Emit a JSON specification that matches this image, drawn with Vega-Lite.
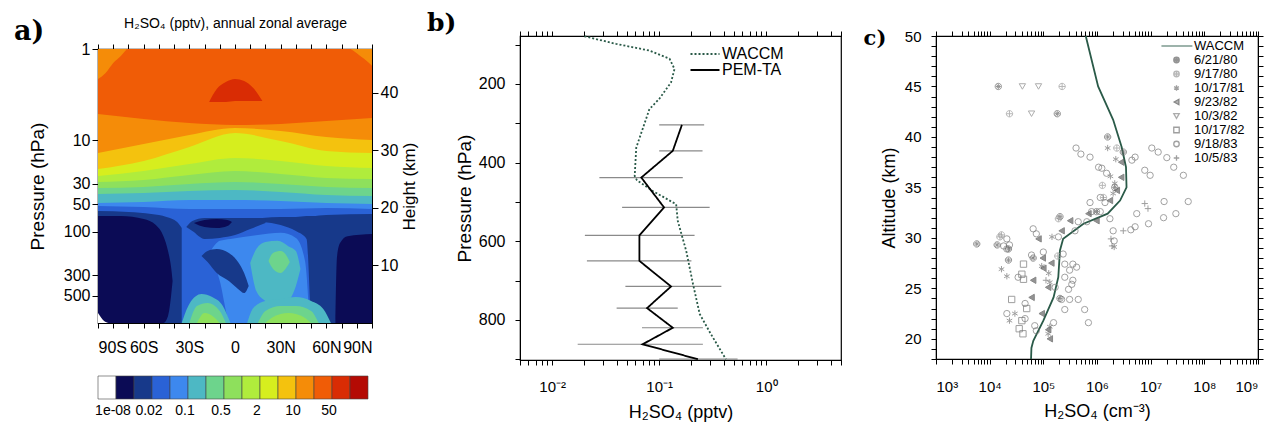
{
  "$schema": "https://vega.github.io/schema/vega-lite/v6.json",
  "background": "white",
  "padding": {"left": 13, "top": 9, "right": 0, "bottom": 0},
  "spacing": 7,
  "resolve": {"scale": {"fill": "independent", "stroke": "independent", "shape": "independent", "strokeDash": "independent"}, "legend": {"fill": "independent", "stroke": "independent", "shape": "independent", "strokeDash": "independent"}},
  "config": {
    "font": "Liberation Sans",
    "view": {"stroke": "black", "strokeWidth": 1.2},
    "title": {"font": "Liberation Sans", "color": "black", "fontWeight": "normal"},
    "axis": {"labelFont": "Liberation Sans", "titleFont": "Liberation Sans", "labelColor": "black", "titleColor": "black", "domainColor": "black", "tickColor": "black", "titleFontWeight": "normal", "grid": false, "tickSize": 5, "labelOverlap": false},
    "legend": {"labelFont": "Liberation Sans", "labelColor": "black"}
  },
  "datasets": {
    "contour": [
      {"id": "a00", "val": 0.03, "lat": -90, "lo": 1000, "hi": 1}, {"id": "a00", "val": 0.03, "lat": 90, "lo": 1000, "hi": 1},
      {"id": "a01", "val": 0.07, "lat": -90, "lo": 52.4, "hi": 1}, {"id": "a01", "val": 0.07, "lat": -60, "lo": 53.7, "hi": 1}, {"id": "a01", "val": 0.07, "lat": -30, "lo": 56.5, "hi": 1}, {"id": "a01", "val": 0.07, "lat": 0, "lo": 56.5, "hi": 1}, {"id": "a01", "val": 0.07, "lat": 30, "lo": 56.5, "hi": 1}, {"id": "a01", "val": 0.07, "lat": 60, "lo": 55.1, "hi": 1}, {"id": "a01", "val": 0.07, "lat": 90, "lo": 56.5, "hi": 1},
      {"id": "a02", "val": 0.15, "lat": -90, "lo": 48.5, "hi": 1}, {"id": "a02", "val": 0.15, "lat": -60, "lo": 47.3, "hi": 1}, {"id": "a02", "val": 0.15, "lat": -30, "lo": 45.0, "hi": 1}, {"id": "a02", "val": 0.15, "lat": 0, "lo": 45.0, "hi": 1}, {"id": "a02", "val": 0.15, "lat": 30, "lo": 46.2, "hi": 1}, {"id": "a02", "val": 0.15, "lat": 60, "lo": 48.5, "hi": 1}, {"id": "a02", "val": 0.15, "lat": 90, "lo": 49.8, "hi": 1},
      {"id": "a03", "val": 0.3, "lat": -90, "lo": 38.7, "hi": 1}, {"id": "a03", "val": 0.3, "lat": -60, "lo": 37.7, "hi": 1}, {"id": "a03", "val": 0.3, "lat": -30, "lo": 35.9, "hi": 1}, {"id": "a03", "val": 0.3, "lat": 0, "lo": 35.0, "hi": 1}, {"id": "a03", "val": 0.3, "lat": 30, "lo": 36.8, "hi": 1}, {"id": "a03", "val": 0.3, "lat": 60, "lo": 39.7, "hi": 1}, {"id": "a03", "val": 0.3, "lat": 90, "lo": 40.7, "hi": 1},
      {"id": "a04", "val": 0.7, "lat": -90, "lo": 33.3, "hi": 1}, {"id": "a04", "val": 0.7, "lat": -60, "lo": 32.4, "hi": 1}, {"id": "a04", "val": 0.7, "lat": -30, "lo": 30.1, "hi": 1}, {"id": "a04", "val": 0.7, "lat": 0, "lo": 28.6, "hi": 1}, {"id": "a04", "val": 0.7, "lat": 30, "lo": 30.1, "hi": 1}, {"id": "a04", "val": 0.7, "lat": 60, "lo": 32.4, "hi": 1}, {"id": "a04", "val": 0.7, "lat": 90, "lo": 33.3, "hi": 1},
      {"id": "a05", "val": 1.5, "lat": -90, "lo": 28.6, "hi": 1}, {"id": "a05", "val": 1.5, "lat": -60, "lo": 27.2, "hi": 1}, {"id": "a05", "val": 1.5, "lat": -30, "lo": 24.0, "hi": 1}, {"id": "a05", "val": 1.5, "lat": 0, "lo": 21.7, "hi": 1}, {"id": "a05", "val": 1.5, "lat": 30, "lo": 23.4, "hi": 1}, {"id": "a05", "val": 1.5, "lat": 60, "lo": 25.8, "hi": 1}, {"id": "a05", "val": 1.5, "lat": 90, "lo": 26.5, "hi": 1},
      {"id": "a06", "val": 3, "lat": -90, "lo": 24.6, "hi": 1}, {"id": "a06", "val": 3, "lat": -60, "lo": 21.7, "hi": 1}, {"id": "a06", "val": 3, "lat": -30, "lo": 18.2, "hi": 1}, {"id": "a06", "val": 3, "lat": 0, "lo": 15.6, "hi": 1}, {"id": "a06", "val": 3, "lat": 30, "lo": 16.8, "hi": 1}, {"id": "a06", "val": 3, "lat": 60, "lo": 19.1, "hi": 1}, {"id": "a06", "val": 3, "lat": 90, "lo": 20.1, "hi": 1},
      {"id": "a07", "val": 7, "lat": -90, "lo": 20.6, "hi": 1}, {"id": "a07", "val": 7, "lat": -60, "lo": 16.8, "hi": 1}, {"id": "a07", "val": 7, "lat": -30, "lo": 11.8, "hi": 1}, {"id": "a07", "val": 7, "lat": 0, "lo": 8.32, "hi": 1}, {"id": "a07", "val": 7, "lat": 30, "lo": 10.2, "hi": 1}, {"id": "a07", "val": 7, "lat": 60, "lo": 13.1, "hi": 1}, {"id": "a07", "val": 7, "lat": 90, "lo": 13.8, "hi": 1},
      {"id": "a08", "val": 15, "lat": -90, "lo": 13.8, "hi": 1}, {"id": "a08", "val": 15, "lat": -60, "lo": 11.0, "hi": 1}, {"id": "a08", "val": 15, "lat": -30, "lo": 8.75, "hi": 1}, {"id": "a08", "val": 15, "lat": 0, "lo": 7.33, "hi": 1}, {"id": "a08", "val": 15, "lat": 30, "lo": 7.9, "hi": 1}, {"id": "a08", "val": 15, "lat": 60, "lo": 9.2, "hi": 1}, {"id": "a08", "val": 15, "lat": 90, "lo": 9.93, "hi": 1},
      {"id": "a09", "val": 30, "lat": -90, "lo": 5.15, "hi": 1}, {"id": "a09", "val": 30, "lat": -60, "lo": 5.84, "hi": 1}, {"id": "a09", "val": 30, "lat": -30, "lo": 6.46, "hi": 1}, {"id": "a09", "val": 30, "lat": 0, "lo": 6.79, "hi": 1}, {"id": "a09", "val": 30, "lat": 30, "lo": 6.62, "hi": 1}, {"id": "a09", "val": 30, "lat": 60, "lo": 6.14, "hi": 1}, {"id": "a09", "val": 30, "lat": 90, "lo": 5.69, "hi": 1},
      {"id": "a10", "val": 15, "lat": -90, "lo": 2.13, "hi": 1}, {"id": "a10", "val": 15, "lat": -85, "lo": 1.83, "hi": 1}, {"id": "a10", "val": 15, "lat": -80, "lo": 1.42, "hi": 1}, {"id": "a10", "val": 15, "lat": -75, "lo": 1.19, "hi": 1}, {"id": "a10", "val": 15, "lat": -71, "lo": 1, "hi": 1},
      {"id": "a11", "val": 15, "lat": 76, "lo": 1, "hi": 1}, {"id": "a11", "val": 15, "lat": 80, "lo": 1.11, "hi": 1}, {"id": "a11", "val": 15, "lat": 85, "lo": 1.29, "hi": 1}, {"id": "a11", "val": 15, "lat": 90, "lo": 1.53, "hi": 1},
      {"id": "a12", "val": 70, "lat": -17, "lo": 3.8, "hi": 3.8}, {"id": "a12", "val": 70, "lat": -12, "lo": 3.8, "hi": 2.74}, {"id": "a12", "val": 70, "lat": -6, "lo": 3.8, "hi": 2.3}, {"id": "a12", "val": 70, "lat": 0, "lo": 3.71, "hi": 2.13}, {"id": "a12", "val": 70, "lat": 6, "lo": 3.71, "hi": 2.24}, {"id": "a12", "val": 70, "lat": 12, "lo": 3.71, "hi": 2.67}, {"id": "a12", "val": 70, "lat": 18, "lo": 3.71, "hi": 3.71},
      {"id": "a13", "val": 0.015, "lat": -90, "lo": 1000, "hi": 59.4}, {"id": "a13", "val": 0.015, "lat": -70, "lo": 1000, "hi": 61.0}, {"id": "a13", "val": 0.015, "lat": -55, "lo": 1000, "hi": 64.1}, {"id": "a13", "val": 0.015, "lat": -45, "lo": 1000, "hi": 69.1}, {"id": "a13", "val": 0.015, "lat": -38, "lo": 1000, "hi": 78.3}, {"id": "a13", "val": 0.015, "lat": -35, "lo": 1000, "hi": 91.2},
      {"id": "a14", "val": 0.005, "lat": -90, "lo": 1000, "hi": 67.4}, {"id": "a14", "val": 0.005, "lat": -75, "lo": 1000, "hi": 67.4}, {"id": "a14", "val": 0.005, "lat": -60, "lo": 1000, "hi": 72.6}, {"id": "a14", "val": 0.005, "lat": -52, "lo": 1000, "hi": 84.5}, {"id": "a14", "val": 0.005, "lat": -47, "lo": 1000, "hi": 112}, {"id": "a14", "val": 0.005, "lat": -44, "lo": 838, "hi": 163}, {"id": "a14", "val": 0.005, "lat": -42, "lo": 506, "hi": 244}, {"id": "a14", "val": 0.005, "lat": -41, "lo": 347, "hi": 347},
      {"id": "a15", "val": 0, "lat": -90, "lo": 1000, "hi": 777}, {"id": "a15", "val": 0, "lat": -86, "lo": 1000, "hi": 950}, {"id": "a15", "val": 0, "lat": -83, "lo": 1000, "hi": 1000},
      {"id": "a16", "val": 0.07, "lat": -16, "lo": 163, "hi": 163}, {"id": "a16", "val": 0.07, "lat": -10, "lo": 347, "hi": 126}, {"id": "a16", "val": 0.07, "lat": -3, "lo": 1000, "hi": 120}, {"id": "a16", "val": 0.07, "lat": 15, "lo": 1000, "hi": 109}, {"id": "a16", "val": 0.07, "lat": 30, "lo": 1000, "hi": 103}, {"id": "a16", "val": 0.07, "lat": 40, "lo": 1000, "hi": 117}, {"id": "a16", "val": 0.07, "lat": 46, "lo": 1000, "hi": 210}, {"id": "a16", "val": 0.07, "lat": 49, "lo": 1000, "hi": 1000},
      {"id": "a17", "val": 0.015, "lat": 18, "lo": 78.3, "hi": 70.8}, {"id": "a17", "val": 0.015, "lat": 30, "lo": 84.5, "hi": 69.1}, {"id": "a17", "val": 0.015, "lat": 40, "lo": 98.4, "hi": 69.1}, {"id": "a17", "val": 0.015, "lat": 47, "lo": 120, "hi": 67.4}, {"id": "a17", "val": 0.015, "lat": 50.5, "lo": 1000, "hi": 67.4}, {"id": "a17", "val": 0.015, "lat": 60, "lo": 1000, "hi": 65.7}, {"id": "a17", "val": 0.015, "lat": 90, "lo": 1000, "hi": 64.1},
      {"id": "a18", "val": 0.005, "lat": 66, "lo": 1000, "hi": 1000}, {"id": "a18", "val": 0.005, "lat": 67, "lo": 1000, "hi": 189}, {"id": "a18", "val": 0.005, "lat": 69, "lo": 1000, "hi": 133}, {"id": "a18", "val": 0.005, "lat": 74, "lo": 1000, "hi": 112}, {"id": "a18", "val": 0.005, "lat": 90, "lo": 1000, "hi": 106},
      {"id": "a19", "val": 0.015, "lat": -32, "lo": 88.9, "hi": 88.9}, {"id": "a19", "val": 0.015, "lat": -28, "lo": 98.4, "hi": 76.4}, {"id": "a19", "val": 0.015, "lat": -20, "lo": 120, "hi": 70.8}, {"id": "a19", "val": 0.015, "lat": -10, "lo": 117, "hi": 70.8}, {"id": "a19", "val": 0.015, "lat": 0, "lo": 109, "hi": 70.8}, {"id": "a19", "val": 0.015, "lat": 10, "lo": 93.5, "hi": 70.8}, {"id": "a19", "val": 0.015, "lat": 20, "lo": 80.4, "hi": 70.8},
      {"id": "a20", "val": 0.005, "lat": -27, "lo": 80.4, "hi": 80.4}, {"id": "a20", "val": 0.005, "lat": -20, "lo": 88.9, "hi": 74.5}, {"id": "a20", "val": 0.005, "lat": -12, "lo": 91.2, "hi": 72.6}, {"id": "a20", "val": 0.005, "lat": -5, "lo": 86.7, "hi": 74.5}, {"id": "a20", "val": 0.005, "lat": -2, "lo": 78.3, "hi": 78.3},
      {"id": "a21", "val": 0.015, "lat": -22, "lo": 185, "hi": 185}, {"id": "a21", "val": 0.015, "lat": -18, "lo": 215, "hi": 163}, {"id": "a21", "val": 0.015, "lat": -12, "lo": 284, "hi": 155}, {"id": "a21", "val": 0.015, "lat": -4, "lo": 347, "hi": 171}, {"id": "a21", "val": 0.015, "lat": 2, "lo": 424, "hi": 215}, {"id": "a21", "val": 0.015, "lat": 6, "lo": 470, "hi": 284}, {"id": "a21", "val": 0.015, "lat": 9, "lo": 393, "hi": 393},
      {"id": "a22", "val": 0.15, "lat": 10, "lo": 220, "hi": 220}, {"id": "a22", "val": 0.15, "lat": 14, "lo": 446, "hi": 155}, {"id": "a22", "val": 0.15, "lat": 20, "lo": 574, "hi": 130}, {"id": "a22", "val": 0.15, "lat": 28, "lo": 651, "hi": 126}, {"id": "a22", "val": 0.15, "lat": 35, "lo": 574, "hi": 144}, {"id": "a22", "val": 0.15, "lat": 40, "lo": 393, "hi": 163}, {"id": "a22", "val": 0.15, "lat": 43, "lo": 256, "hi": 256},
      {"id": "a23", "val": 0.3, "lat": 22, "lo": 210, "hi": 210}, {"id": "a23", "val": 0.3, "lat": 25, "lo": 256, "hi": 171}, {"id": "a23", "val": 0.3, "lat": 30, "lo": 284, "hi": 163}, {"id": "a23", "val": 0.3, "lat": 34, "lo": 244, "hi": 185}, {"id": "a23", "val": 0.3, "lat": 36, "lo": 215, "hi": 215},
      {"id": "a24", "val": 0.15, "lat": -35, "lo": 1000, "hi": 1000}, {"id": "a24", "val": 0.15, "lat": -30, "lo": 1000, "hi": 619}, {"id": "a24", "val": 0.15, "lat": -22, "lo": 1000, "hi": 482}, {"id": "a24", "val": 0.15, "lat": -15, "lo": 1000, "hi": 519}, {"id": "a24", "val": 0.15, "lat": -8, "lo": 1000, "hi": 651}, {"id": "a24", "val": 0.15, "lat": -3, "lo": 1000, "hi": 1000},
      {"id": "a25", "val": 0.15, "lat": 8, "lo": 1000, "hi": 1000}, {"id": "a25", "val": 0.15, "lat": 12, "lo": 1000, "hi": 685}, {"id": "a25", "val": 0.15, "lat": 20, "lo": 1000, "hi": 574}, {"id": "a25", "val": 0.15, "lat": 30, "lo": 1000, "hi": 546}, {"id": "a25", "val": 0.15, "lat": 40, "lo": 1000, "hi": 519}, {"id": "a25", "val": 0.15, "lat": 50, "lo": 1000, "hi": 574}, {"id": "a25", "val": 0.15, "lat": 58, "lo": 1000, "hi": 703}, {"id": "a25", "val": 0.15, "lat": 63, "lo": 1000, "hi": 1000},
      {"id": "a26", "val": 0.3, "lat": -30, "lo": 1000, "hi": 1000}, {"id": "a26", "val": 0.3, "lat": -25, "lo": 1000, "hi": 651}, {"id": "a26", "val": 0.3, "lat": -18, "lo": 1000, "hi": 604}, {"id": "a26", "val": 0.3, "lat": -10, "lo": 1000, "hi": 739}, {"id": "a26", "val": 0.3, "lat": -6, "lo": 1000, "hi": 1000},
      {"id": "a27", "val": 0.3, "lat": 15, "lo": 1000, "hi": 1000}, {"id": "a27", "val": 0.3, "lat": 20, "lo": 1000, "hi": 739}, {"id": "a27", "val": 0.3, "lat": 30, "lo": 1000, "hi": 651}, {"id": "a27", "val": 0.3, "lat": 40, "lo": 1000, "hi": 651}, {"id": "a27", "val": 0.3, "lat": 50, "lo": 1000, "hi": 739}, {"id": "a27", "val": 0.3, "lat": 55, "lo": 1000, "hi": 1000},
      {"id": "a28", "val": 0.7, "lat": -25, "lo": 1000, "hi": 1000}, {"id": "a28", "val": 0.7, "lat": -20, "lo": 1000, "hi": 777}, {"id": "a28", "val": 0.7, "lat": -14, "lo": 1000, "hi": 859}, {"id": "a28", "val": 0.7, "lat": -10, "lo": 1000, "hi": 1000},
      {"id": "a29", "val": 0.7, "lat": 20, "lo": 1000, "hi": 1000}, {"id": "a29", "val": 0.7, "lat": 25, "lo": 1000, "hi": 859}, {"id": "a29", "val": 0.7, "lat": 35, "lo": 1000, "hi": 777}, {"id": "a29", "val": 0.7, "lat": 45, "lo": 1000, "hi": 859}, {"id": "a29", "val": 0.7, "lat": 50, "lo": 1000, "hi": 1000}
    ],
    "cbar": [
      {"lower": "0", "val": 0}, {"lower": "1e-08", "val": 0.005}, {"lower": "0.01", "val": 0.015}, {"lower": "0.02", "val": 0.03}, {"lower": "0.05", "val": 0.07}, {"lower": "0.1", "val": 0.15}, {"lower": "0.2", "val": 0.3}, {"lower": "0.5", "val": 0.7}, {"lower": "1", "val": 1.5}, {"lower": "2", "val": 3}, {"lower": "5", "val": 7}, {"lower": "10", "val": 15}, {"lower": "20", "val": 30}, {"lower": "50", "val": 70}, {"lower": "100", "val": 150}
    ],
    "profb": [
      {"series": "WACCM", "p": 78.7, "v": 0.02}, {"series": "WACCM", "p": 98, "v": 0.0395}, {"series": "WACCM", "p": 115, "v": 0.081}, {"series": "WACCM", "p": 136, "v": 0.125}, {"series": "WACCM", "p": 162, "v": 0.139}, {"series": "WACCM", "p": 196, "v": 0.129}, {"series": "WACCM", "p": 238, "v": 0.1}, {"series": "WACCM", "p": 264, "v": 0.081}, {"series": "WACCM", "p": 362, "v": 0.061}, {"series": "WACCM", "p": 434, "v": 0.059}, {"series": "WACCM", "p": 445, "v": 0.062}, {"series": "WACCM", "p": 472, "v": 0.087}, {"series": "WACCM", "p": 506, "v": 0.144}, {"series": "WACCM", "p": 548, "v": 0.149}, {"series": "WACCM", "p": 625, "v": 0.179}, {"series": "WACCM", "p": 709, "v": 0.207}, {"series": "WACCM", "p": 785, "v": 0.239}, {"series": "WACCM", "p": 836, "v": 0.304}, {"series": "WACCM", "p": 900, "v": 0.42},
      {"series": "PEM-TA", "p": 304, "v": 0.163, "lo": 0.1, "hi": 0.263}, {"series": "PEM-TA", "p": 370, "v": 0.134, "lo": 0.1, "hi": 0.254}, {"series": "PEM-TA", "p": 438, "v": 0.068, "lo": 0.0276, "hi": 0.166}, {"series": "PEM-TA", "p": 514, "v": 0.111, "lo": 0.045, "hi": 0.296}, {"series": "PEM-TA", "p": 585, "v": 0.0653, "lo": 0.0202, "hi": 0.214}, {"series": "PEM-TA", "p": 650, "v": 0.0653, "lo": 0.0211, "hi": 0.2}, {"series": "PEM-TA", "p": 715, "v": 0.129, "lo": 0.0483, "hi": 0.381}, {"series": "PEM-TA", "p": 770, "v": 0.077, "lo": 0.04, "hi": 0.149}, {"series": "PEM-TA", "p": 820, "v": 0.134, "lo": 0.069, "hi": 0.256}, {"series": "PEM-TA", "p": 862, "v": 0.07, "lo": 0.0173, "hi": 0.256}, {"series": "PEM-TA", "p": 900, "v": 0.23, "lo": 0.1, "hi": 0.54}
    ],
    "profc": [
      {"series": "WACCM", "alt": 50, "v": 6.17e5}, {"series": "WACCM", "alt": 45, "v": 1.05e6}, {"series": "WACCM", "alt": 41.7, "v": 2.0e6}, {"series": "WACCM", "alt": 39, "v": 2.88e6}, {"series": "WACCM", "alt": 37, "v": 3.47e6}, {"series": "WACCM", "alt": 35, "v": 3.55e6}, {"series": "WACCM", "alt": 33.7, "v": 2.69e6}, {"series": "WACCM", "alt": 32.4, "v": 1.58e6}, {"series": "WACCM", "alt": 31.4, "v": 5.6e5}, {"series": "WACCM", "alt": 29.9, "v": 2.34e5}, {"series": "WACCM", "alt": 28.75, "v": 2.04e5}, {"series": "WACCM", "alt": 26.1, "v": 1.9e5}, {"series": "WACCM", "alt": 24.1, "v": 1.55e5}, {"series": "WACCM", "alt": 21.8, "v": 1.0e5}, {"series": "WACCM", "alt": 19.8, "v": 6.5e4}, {"series": "WACCM", "alt": 19.1, "v": 6.0e4}, {"series": "WACCM", "alt": 18, "v": 5.9e4}
    ],
    "obs": [
      {"series": "6/21/80", "v": 1.45e4, "alt": 45}, {"series": "10/3/82", "v": 4.07e4, "alt": 45}, {"series": "10/3/82", "v": 8.13e4, "alt": 45}, {"series": "9/17/80", "v": 2.24e5, "alt": 45},
      {"series": "9/17/80", "v": 2.34e4, "alt": 42.3}, {"series": "10/3/82", "v": 6.03e4, "alt": 42.3}, {"series": "6/21/80", "v": 1.82e5, "alt": 42.3},
      {"series": "6/21/80", "v": 1.58e6, "alt": 40.0}, {"series": "10/17/81", "v": 1.58e6, "alt": 38.9}, {"series": "9/17/80", "v": 2.34e6, "alt": 38.9}, {"series": "6/21/80", "v": 3.09e6, "alt": 38.5}, {"series": "9/23/82", "v": 2.82e6, "alt": 37.5}, {"series": "10/17/81", "v": 2.24e6, "alt": 37.8},
      {"series": "9/18/83", "v": 4.07e5, "alt": 38.9}, {"series": "9/18/83", "v": 5.01e5, "alt": 38.3}, {"series": "9/18/83", "v": 7.41e5, "alt": 38.0}, {"series": "9/18/83", "v": 1.07e6, "alt": 37.0}, {"series": "9/18/83", "v": 1.23e6, "alt": 36.9}, {"series": "9/18/83", "v": 1.51e6, "alt": 36.4},
      {"series": "9/18/83", "v": 1.05e7, "alt": 38.9}, {"series": "9/18/83", "v": 1.38e7, "alt": 38.5}, {"series": "9/18/83", "v": 2.0e7, "alt": 37.95}, {"series": "9/18/83", "v": 2.69e7, "alt": 37.0}, {"series": "9/18/83", "v": 4.07e7, "alt": 36.2}, {"series": "9/18/83", "v": 5.13e6, "alt": 38.0}, {"series": "9/18/83", "v": 4.47e6, "alt": 37.7}, {"series": "9/18/83", "v": 7.76e6, "alt": 36.7}, {"series": "9/18/83", "v": 9.77e6, "alt": 36.2},
      {"series": "9/23/82", "v": 2.82e6, "alt": 36.0}, {"series": "10/17/81", "v": 1.78e6, "alt": 36.1}, {"series": "6/21/80", "v": 2.14e6, "alt": 35.0}, {"series": "10/17/81", "v": 2.0e6, "alt": 34.4}, {"series": "9/23/82", "v": 1.74e6, "alt": 33.7}, {"series": "9/17/80", "v": 1.32e6, "alt": 34.0},
      {"series": "10/17/81", "v": 2.14e6, "alt": 35.4}, {"series": "9/23/82", "v": 2.34e6, "alt": 34.7}, {"series": "9/17/80", "v": 1.26e6, "alt": 35.2},
      {"series": "9/18/83", "v": 1.15e6, "alt": 34.0}, {"series": "9/18/83", "v": 1.41e6, "alt": 33.5}, {"series": "9/18/83", "v": 7.41e5, "alt": 33.5}, {"series": "9/18/83", "v": 7.94e5, "alt": 32.6}, {"series": "6/21/80", "v": 9.77e5, "alt": 32.6}, {"series": "9/23/82", "v": 6.92e5, "alt": 32.4}, {"series": "9/18/83", "v": 1.15e6, "alt": 32.6}, {"series": "9/18/83", "v": 1.74e6, "alt": 31.9}, {"series": "9/23/82", "v": 9.77e5, "alt": 31.7}, {"series": "9/18/83", "v": 6.46e5, "alt": 31.6}, {"series": "9/18/83", "v": 4.47e5, "alt": 31.6}, {"series": "9/18/83", "v": 3.89e5, "alt": 30.7}, {"series": "9/23/82", "v": 3.16e5, "alt": 31.7}, {"series": "6/21/80", "v": 2.04e5, "alt": 32.1}, {"series": "9/17/80", "v": 1.91e5, "alt": 31.9}, {"series": "9/23/82", "v": 2.19e5, "alt": 30.7}, {"series": "9/18/83", "v": 1.91e5, "alt": 30.1},
      {"series": "9/18/83", "v": 6.46e4, "alt": 30.9}, {"series": "9/18/83", "v": 7.41e4, "alt": 30.4}, {"series": "9/23/82", "v": 8.13e4, "alt": 29.9}, {"series": "10/17/81", "v": 1.45e5, "alt": 30.1}, {"series": "9/17/80", "v": 1.55e4, "alt": 30.1}, {"series": "9/18/83", "v": 2.09e4, "alt": 29.9}, {"series": "9/18/83", "v": 2.34e4, "alt": 29.3}, {"series": "6/21/80", "v": 1.38e4, "alt": 29.3},
      {"series": "9/18/83", "v": 2.0e6, "alt": 30.7}, {"series": "9/18/83", "v": 2.09e6, "alt": 29.7}, {"series": "10/5/83", "v": 7.76e6, "alt": 33.4}, {"series": "10/5/83", "v": 8.91e6, "alt": 32.9}, {"series": "9/18/83", "v": 1.78e7, "alt": 33.6}, {"series": "9/18/83", "v": 5.01e7, "alt": 33.6}, {"series": "9/18/83", "v": 5.5e6, "alt": 32.4}, {"series": "9/18/83", "v": 1.74e7, "alt": 32.0}, {"series": "9/18/83", "v": 2.95e7, "alt": 32.4}, {"series": "9/18/83", "v": 9.12e6, "alt": 31.4}, {"series": "9/18/83", "v": 5.13e6, "alt": 31.1}, {"series": "10/5/83", "v": 3.09e6, "alt": 30.7}, {"series": "10/5/83", "v": 1.82e6, "alt": 29.9}, {"series": "10/17/81", "v": 2.09e6, "alt": 29.1}, {"series": "10/5/83", "v": 1.91e6, "alt": 29.2}, {"series": "9/18/83", "v": 4.27e6, "alt": 30.8},
      {"series": "6/21/80", "v": 5.75e3, "alt": 29.4}, {"series": "9/18/83", "v": 1.82e4, "alt": 29.2}, {"series": "9/18/83", "v": 2.09e4, "alt": 28.9}, {"series": "10/17/81", "v": 1.66e4, "alt": 26.9}, {"series": "6/21/80", "v": 2.24e4, "alt": 27.8}, {"series": "10/17/81", "v": 2.09e4, "alt": 26.2}, {"series": "6/21/80", "v": 2.24e4, "alt": 28.9}, {"series": "9/17/80", "v": 1.66e4, "alt": 30.3},
      {"series": "10/17/82", "v": 4.27e4, "alt": 27.4}, {"series": "10/17/82", "v": 3.98e4, "alt": 26.4}, {"series": "10/17/82", "v": 4.27e4, "alt": 25.9}, {"series": "9/18/83", "v": 3.39e4, "alt": 26.1},
      {"series": "6/21/80", "v": 6.46e4, "alt": 28.0}, {"series": "9/18/83", "v": 6.03e4, "alt": 28.3}, {"series": "9/23/82", "v": 9.77e4, "alt": 28.0}, {"series": "10/17/81", "v": 9.33e4, "alt": 27.2}, {"series": "9/23/82", "v": 6.46e4, "alt": 25.8}, {"series": "9/23/82", "v": 1.0e5, "alt": 27.0}, {"series": "10/17/81", "v": 1.32e5, "alt": 25.6}, {"series": "9/23/82", "v": 1.23e5, "alt": 25.1}, {"series": "9/18/83", "v": 1.66e5, "alt": 25.1}, {"series": "9/18/83", "v": 1.0e5, "alt": 28.6}, {"series": "9/23/82", "v": 1.41e5, "alt": 27.5}, {"series": "10/17/81", "v": 1.26e5, "alt": 26.5}, {"series": "10/5/83", "v": 1.12e5, "alt": 25.8}, {"series": "9/17/80", "v": 1.86e5, "alt": 28.2},
      {"series": "9/18/83", "v": 2.34e5, "alt": 28.4}, {"series": "9/18/83", "v": 2.51e5, "alt": 27.4}, {"series": "9/18/83", "v": 3.09e5, "alt": 26.8}, {"series": "9/18/83", "v": 3.55e5, "alt": 27.4}, {"series": "9/18/83", "v": 4.17e5, "alt": 27.1}, {"series": "9/18/83", "v": 2.51e5, "alt": 26.1}, {"series": "9/18/83", "v": 3.55e5, "alt": 25.8}, {"series": "9/18/83", "v": 2.95e5, "alt": 24.9}, {"series": "9/18/83", "v": 3.39e5, "alt": 25.4},
      {"series": "9/18/83", "v": 2.19e5, "alt": 23.9}, {"series": "9/18/83", "v": 3.09e5, "alt": 23.9}, {"series": "9/18/83", "v": 4.47e5, "alt": 23.9}, {"series": "9/18/83", "v": 2.51e5, "alt": 22.9}, {"series": "9/18/83", "v": 5.89e5, "alt": 22.9}, {"series": "9/18/83", "v": 6.92e5, "alt": 21.6}, {"series": "9/18/83", "v": 1.55e5, "alt": 21.6}, {"series": "6/21/80", "v": 2.04e5, "alt": 24.0},
      {"series": "10/17/82", "v": 2.57e4, "alt": 23.9}, {"series": "9/18/83", "v": 4.57e4, "alt": 23.5}, {"series": "10/17/82", "v": 4.9e4, "alt": 23.0}, {"series": "9/23/82", "v": 6.03e4, "alt": 24.1}, {"series": "9/23/82", "v": 9.33e4, "alt": 22.5}, {"series": "9/18/83", "v": 2.09e4, "alt": 22.5}, {"series": "10/17/81", "v": 2.95e4, "alt": 22.5}, {"series": "10/17/81", "v": 2.34e4, "alt": 21.8}, {"series": "10/17/82", "v": 3.98e4, "alt": 21.8}, {"series": "9/18/83", "v": 4.57e4, "alt": 22.0}, {"series": "10/17/82", "v": 3.55e4, "alt": 21.0}, {"series": "10/17/82", "v": 4.17e4, "alt": 20.5}, {"series": "9/18/83", "v": 6.92e4, "alt": 21.3}, {"series": "9/18/83", "v": 7.41e4, "alt": 20.8}, {"series": "9/23/82", "v": 1.23e5, "alt": 20.9}, {"series": "10/17/81", "v": 1.32e5, "alt": 21.2}, {"series": "9/23/82", "v": 1.32e5, "alt": 20.0}, {"series": "10/17/81", "v": 1.23e5, "alt": 20.5}
    ]
  },
  "hconcat": [
    {
      "bounds": "flush",
      "spacing": 0,
      "vconcat": [
        {
          "width": 274,
          "height": 13,
          "view": {"stroke": null},
          "data": {"values": []},
          "mark": "point",
          "encoding": {}
        },
        {
          "bounds": "flush",
          "spacing": 53,
          "vconcat": [
            {
              "width": 274,
              "height": 274,
              "title": {"text": "a)", "orient": "left", "anchor": "end", "frame": "group", "angle": 0, "align": "left", "baseline": "middle", "offset": -16, "dy": -17.5, "font": "DejaVu Serif", "fontSize": 27, "fontWeight": "bold", "color": "black"},
              "layer": [
                {
                  "data": {"name": "contour"},
                  "mark": {"type": "area", "orient": "vertical", "interpolate": "monotone", "clip": true},
                  "encoding": {
                    "x": {"field": "lat", "type": "quantitative", "scale": {"domain": [-90, 90], "nice": false, "zero": false},
                      "axis": {"values": [-90, -80, -70, -60, -50, -40, -30, -20, -10, 0, 10, 20, 30, 40, 50, 60, 70, 80, 90], "labelExpr": "datum.value % 30 != 0 ? '' : (datum.value < 0 ? (-datum.value) + 'S' : (datum.value > 0 ? datum.value + 'N' : '0'))", "title": null, "labelFontSize": 16, "labelPadding": 11, "tickSize": 5}},
                    "y": {"field": "lo", "type": "quantitative", "scale": {"type": "log", "domain": [1, 1000], "reverse": true, "nice": false},
                      "axis": {"values": [1, 10, 30, 50, 100, 300, 500], "format": "d", "title": "Pressure (hPa)", "labelFontSize": 16, "titleFontSize": 19, "titlePadding": 16, "tickSize": 6}},
                    "y2": {"field": "hi"},
                    "fill": {"field": "val", "type": "quantitative",
                      "scale": {"type": "threshold", "domain": [1e-8, 0.01, 0.02, 0.05, 0.1, 0.2, 0.5, 1, 2, 5, 10, 20, 50, 100], "range": ["#ffffff", "#0b0b55", "#17398a", "#2a62d6", "#3d88ee", "#4db8c4", "#6dd48c", "#8ee05c", "#b0ec3c", "#d6ee1e", "#f4c20e", "#f58c08", "#f05c06", "#d92c04", "#b40a04"]},
                      "legend": null},
                    "detail": {"field": "id"}
                  }
                },
                {
                  "data": {"values": [{}]},
                  "mark": {"type": "point", "opacity": 0},
                  "encoding": {
                    "x": {"datum": 0, "type": "quantitative", "scale": {"domain": [-90, 90], "nice": false, "zero": false},
                      "axis": {"orient": "top", "values": [-90, -80, -70, -60, -50, -40, -30, -20, -10, 0, 10, 20, 30, 40, 50, 60, 70, 80, 90], "labels": false, "title": "H₂SO₄ (pptv), annual zonal average", "titleFontSize": 14, "titlePadding": 13, "tickSize": 5}},
                    "y": {"datum": 10, "type": "quantitative", "scale": {"domain": [0, 47.6], "nice": false, "zero": false},
                      "axis": {"orient": "right", "values": [10, 20, 30, 40], "title": "Height (km)", "titleAngle": 270, "titleBaseline": "top", "labelFontSize": 16, "titleFontSize": 17, "titlePadding": 4, "tickSize": 6}}
                  }
                }
              ],
              "resolve": {"scale": {"x": "independent", "y": "independent"}, "axis": {"x": "independent", "y": "independent"}}
            },
            {
              "width": 270,
              "height": 23,
              "view": {"stroke": null},
              "data": {"name": "cbar"},
              "mark": {"type": "rect", "stroke": "#444444", "strokeWidth": 0.6},
              "encoding": {
                "x": {"field": "lower", "type": "ordinal", "sort": null, "scale": {"paddingInner": 0, "paddingOuter": 0},
                  "axis": {"values": ["1e-08", "0.02", "0.1", "0.5", "2", "10", "50"], "labelOffset": -12, "labelAngle": 0, "ticks": false, "domain": false, "title": null, "labelFontSize": 14, "labelPadding": 4}},
                "fill": {"field": "val", "type": "quantitative",
                  "scale": {"type": "threshold", "domain": [1e-8, 0.01, 0.02, 0.05, 0.1, 0.2, 0.5, 1, 2, 5, 10, 20, 50, 100], "range": ["#ffffff", "#0b0b55", "#17398a", "#2a62d6", "#3d88ee", "#4db8c4", "#6dd48c", "#8ee05c", "#b0ec3c", "#d6ee1e", "#f4c20e", "#f58c08", "#f05c06", "#d92c04", "#b40a04"]},
                  "legend": null}
              }
            }
          ]
        }
      ]
    },
    {
      "bounds": "flush",
      "spacing": 95,
      "resolve": {"scale": {"fill": "independent", "stroke": "independent", "shape": "independent", "strokeDash": "independent"}, "legend": {"fill": "independent", "stroke": "independent", "shape": "independent", "strokeDash": "independent"}},
      "hconcat": [
        {
          "width": 321,
          "height": 324,
          "title": {"text": "b)", "orient": "left", "anchor": "end", "frame": "group", "angle": 0, "align": "left", "baseline": "middle", "offset": -1, "dy": -13.5, "font": "DejaVu Serif", "fontSize": 25, "fontWeight": "bold", "color": "black"},
          "layer": [
            {
              "data": {"name": "profb"},
              "layer": [
                {
                  "transform": [{"filter": "datum.series == 'PEM-TA'"}],
                  "mark": {"type": "rule", "color": "#8a8a8a", "strokeWidth": 1.2},
                  "encoding": {
                    "x": {"field": "lo", "type": "quantitative", "scale": {"type": "log", "domain": [0.005, 5], "nice": false},
                      "axis": {"values": [0.005, 0.006, 0.007, 0.008, 0.009, 0.01, 0.02, 0.03, 0.04, 0.05, 0.06, 0.07, 0.08, 0.09, 0.1, 0.2, 0.3, 0.4, 0.5, 0.6, 0.7, 0.8, 0.9, 1, 2, 3, 4, 5], "labelExpr": "datum.value == 0.01 ? '10⁻²' : (datum.value == 0.1 ? '10⁻¹' : (datum.value == 1 ? '10⁰' : ''))", "title": "H₂SO₄ (pptv)", "labelFontSize": 15, "titleFontSize": 18, "labelPadding": 14, "titlePadding": 9, "tickSize": 5, "labelOverlap": false}},
                    "x2": {"field": "hi"},
                    "y": {"field": "p", "type": "quantitative", "scale": {"domain": [78, 902], "reverse": true, "nice": false, "zero": false},
                      "axis": {"values": [100, 200, 300, 400, 500, 600, 700, 800, 900], "labelExpr": "datum.value % 200 == 0 ? datum.label : ''", "title": "Pressure (hPa)", "labelFontSize": 16, "titleFontSize": 19, "labelPadding": 10, "titlePadding": 4, "tickSize": 5}}
                  }
                },
                {
                  "mark": {"type": "line", "strokeWidth": 1.8},
                  "encoding": {
                    "x": {"field": "v", "type": "quantitative"},
                    "y": {"field": "p", "type": "quantitative"},
                    "order": {"field": "p"},
                    "stroke": {"field": "series", "type": "nominal", "scale": {"domain": ["WACCM", "PEM-TA"], "range": ["#2a5a48", "#000000"]},
                      "legend": {"orient": "none", "legendX": 177, "legendY": 10, "title": null, "labelFontSize": 16, "symbolType": "M-2.9,0H2.9", "symbolSize": 100, "symbolStrokeWidth": 1.8, "labelOffset": 9, "rowPadding": -1, "padding": 0}},
                    "strokeDash": {"field": "series", "type": "nominal", "scale": {"domain": ["WACCM", "PEM-TA"], "range": [[2, 2], [1, 0]]},
                      "legend": {"orient": "none", "legendX": 177, "legendY": 10, "title": null, "labelFontSize": 16, "symbolType": "M-2.9,0H2.9", "symbolSize": 100, "symbolStrokeWidth": 1.8, "labelOffset": 9, "rowPadding": -1, "padding": 0}}
                  }
                }
              ]
            },
            {
              "data": {"values": [{}]},
              "mark": {"type": "point", "opacity": 0},
              "encoding": {
                "x": {"datum": 1, "type": "quantitative", "scale": {"type": "log", "domain": [0.005, 5], "nice": false},
                  "axis": {"orient": "top", "values": [0.005, 0.006, 0.007, 0.008, 0.009, 0.01, 0.02, 0.03, 0.04, 0.05, 0.06, 0.07, 0.08, 0.09, 0.1, 0.2, 0.3, 0.4, 0.5, 0.6, 0.7, 0.8, 0.9, 1, 2, 3, 4, 5], "labels": false, "title": null, "tickSize": 5}}
              }
            }
          ],
          "resolve": {"scale": {"x": "independent"}, "axis": {"x": "independent"}}
        },
        {
          "width": 322,
          "height": 323,
          "title": {"text": "c)", "orient": "left", "anchor": "end", "frame": "group", "angle": 0, "align": "left", "baseline": "middle", "offset": -6, "dy": 2.5, "font": "DejaVu Serif", "fontSize": 21, "fontWeight": "bold", "color": "black"},
          "layer": [
            {
              "layer": [
                {
                  "data": {"name": "profc"},
                  "mark": {"type": "line", "strokeWidth": 1.8},
                  "encoding": {
                    "x": {"field": "v", "type": "quantitative", "scale": {"type": "log", "domain": [1000, 1000000000], "nice": false},
                      "axis": {"values": [1e3, 2e3, 3e3, 4e3, 5e3, 6e3, 7e3, 8e3, 9e3, 1e4, 2e4, 3e4, 4e4, 5e4, 6e4, 7e4, 8e4, 9e4, 1e5, 2e5, 3e5, 4e5, 5e5, 6e5, 7e5, 8e5, 9e5, 1e6, 2e6, 3e6, 4e6, 5e6, 6e6, 7e6, 8e6, 9e6, 1e7, 2e7, 3e7, 4e7, 5e7, 6e7, 7e7, 8e7, 9e7, 1e8, 2e8, 3e8, 4e8, 5e8, 6e8, 7e8, 8e8, 9e8, 1e9],
                        "labelExpr": "abs(log(datum.value)/LN10 - round(log(datum.value)/LN10)) < 0.01 ? '10' + ['⁰','¹','²','³','⁴','⁵','⁶','⁷','⁸','⁹'][round(log(datum.value)/LN10)] : ''",
                        "title": "H₂SO₄ (cm⁻³)", "labelFontSize": 15, "titleFontSize": 18, "labelPadding": 15, "titlePadding": 8, "tickSize": 5, "labelOverlap": false}},
                    "y": {"field": "alt", "type": "quantitative", "scale": {"domain": [18, 50], "nice": false, "zero": false},
                      "axis": {"values": [18, 19, 20, 21, 22, 23, 24, 25, 26, 27, 28, 29, 30, 31, 32, 33, 34, 35, 36, 37, 38, 39, 40, 41, 42, 43, 44, 45, 46, 47, 48, 49, 50], "labelExpr": "datum.value % 5 == 0 ? datum.label : ''", "title": "Altitude (km)", "labelFontSize": 15, "titleFontSize": 18, "labelPadding": 10, "titlePadding": 6, "tickSize": 5, "labelOverlap": false}},
                    "order": {"field": "alt"},
                    "stroke": {"field": "series", "type": "nominal",
                      "scale": {"domain": ["WACCM", "6/21/80", "9/17/80", "10/17/81", "9/23/82", "10/3/82", "10/17/82", "9/18/83", "10/5/83"], "range": ["#2a5a48", "#666666", "#9a9a9a", "#777777", "#555555", "#8a8a8a", "#777777", "#7a7a7a", "#777777"]},
                      "legend": {"orient": "none", "legendX": 234, "legendY": 3.5, "title": null, "labelFontSize": 13, "symbolSize": 30, "symbolStrokeWidth": 1.3, "labelOffset": 11, "rowPadding": 0, "padding": 0}}
                  }
                },
                {
                  "data": {"name": "obs"},
                  "mark": {"type": "point", "size": 40, "strokeWidth": 1},
                  "encoding": {
                    "x": {"field": "v", "type": "quantitative", "axis": {"values": [1e3, 2e3, 3e3, 4e3, 5e3, 6e3, 7e3, 8e3, 9e3, 1e4, 2e4, 3e4, 4e4, 5e4, 6e4, 7e4, 8e4, 9e4, 1e5, 2e5, 3e5, 4e5, 5e5, 6e5, 7e5, 8e5, 9e5, 1e6, 2e6, 3e6, 4e6, 5e6, 6e6, 7e6, 8e6, 9e6, 1e7, 2e7, 3e7, 4e7, 5e7, 6e7, 7e7, 8e7, 9e7, 1e8, 2e8, 3e8, 4e8, 5e8, 6e8, 7e8, 8e8, 9e8, 1e9],
                        "labelExpr": "abs(log(datum.value)/LN10 - round(log(datum.value)/LN10)) < 0.01 ? '10' + ['⁰','¹','²','³','⁴','⁵','⁶','⁷','⁸','⁹'][round(log(datum.value)/LN10)] : ''",
                        "title": "H₂SO₄ (cm⁻³)", "labelFontSize": 15, "titleFontSize": 18, "labelPadding": 15, "titlePadding": 8, "tickSize": 5, "labelOverlap": false}},
                    "y": {"field": "alt", "type": "quantitative", "axis": {"values": [18, 19, 20, 21, 22, 23, 24, 25, 26, 27, 28, 29, 30, 31, 32, 33, 34, 35, 36, 37, 38, 39, 40, 41, 42, 43, 44, 45, 46, 47, 48, 49, 50], "labelExpr": "datum.value % 5 == 0 ? datum.label : ''", "title": "Altitude (km)", "labelFontSize": 15, "titleFontSize": 18, "labelPadding": 10, "titlePadding": 6, "tickSize": 5, "labelOverlap": false}},
                    "stroke": {"field": "series", "type": "nominal",
                      "legend": {"orient": "none", "legendX": 234, "legendY": 3.5, "title": null, "labelFontSize": 13, "symbolSize": 30, "symbolStrokeWidth": 1.3, "labelOffset": 11, "rowPadding": 0, "padding": 0}},
                    "shape": {"field": "series", "type": "nominal",
                      "scale": {"domain": ["WACCM", "6/21/80", "9/17/80", "10/17/81", "9/23/82", "10/3/82", "10/17/82", "9/18/83", "10/5/83"],
                        "range": ["M-5.5,0H5.8", "M-1,0A1,1 0 1,0 1,0A1,1 0 1,0 -1,0M-0.6,-0.6L0.6,0.6M-0.6,0.6L0.6,-0.6M0,-0.8V0.8M-0.8,0H0.8", "M-1,0A1,1 0 1,0 1,0A1,1 0 1,0 -1,0M0,-1V1M-1,0H1", "M0,-1V1M-0.87,-0.5L0.87,0.5M-0.87,0.5L0.87,-0.5", "triangle-left", "triangle-down", "square", "circle", "M0,-1V1M-1,0H1"]},
                      "legend": {"orient": "none", "legendX": 234, "legendY": 3.5, "title": null, "labelFontSize": 13, "symbolSize": 30, "symbolStrokeWidth": 1.3, "labelOffset": 11, "rowPadding": 0, "padding": 0}},
                    "fill": {"field": "series", "type": "nominal",
                      "scale": {"domain": ["WACCM", "6/21/80", "9/17/80", "10/17/81", "9/23/82", "10/3/82", "10/17/82", "9/18/83", "10/5/83"], "range": ["transparent", "transparent", "transparent", "transparent", "#666666", "transparent", "transparent", "transparent", "transparent"]},
                      "legend": {"orient": "none", "legendX": 234, "legendY": 3.5, "title": null, "labelFontSize": 13, "symbolSize": 30, "symbolStrokeWidth": 1.3, "labelOffset": 11, "rowPadding": 0, "padding": 0}}
                  }
                }
              ]
            },
            {
              "data": {"values": [{}]},
              "mark": {"type": "point", "opacity": 0},
              "encoding": {
                "x": {"datum": 1e5, "type": "quantitative", "scale": {"type": "log", "domain": [1000, 1000000000], "nice": false},
                  "axis": {"orient": "top", "values": [1e3, 2e3, 3e3, 4e3, 5e3, 6e3, 7e3, 8e3, 9e3, 1e4, 2e4, 3e4, 4e4, 5e4, 6e4, 7e4, 8e4, 9e4, 1e5, 2e5, 3e5, 4e5, 5e5, 6e5, 7e5, 8e5, 9e5, 1e6, 2e6, 3e6, 4e6, 5e6, 6e6, 7e6, 8e6, 9e6, 1e7, 2e7, 3e7, 4e7, 5e7, 6e7, 7e7, 8e7, 9e7, 1e8, 2e8, 3e8, 4e8, 5e8, 6e8, 7e8, 8e8, 9e8, 1e9], "labels": false, "title": null, "tickSize": 5}},
                "y": {"datum": 30, "type": "quantitative", "scale": {"domain": [18, 50], "nice": false, "zero": false},
                  "axis": {"orient": "right", "values": [18, 19, 20, 21, 22, 23, 24, 25, 26, 27, 28, 29, 30, 31, 32, 33, 34, 35, 36, 37, 38, 39, 40, 41, 42, 43, 44, 45, 46, 47, 48, 49, 50], "labels": false, "title": null, "tickSize": 5}}
              }
            }
          ],
          "resolve": {"scale": {"x": "independent", "y": "independent"}, "axis": {"x": "independent", "y": "independent"}}
        }
      ]
    }
  ]
}
